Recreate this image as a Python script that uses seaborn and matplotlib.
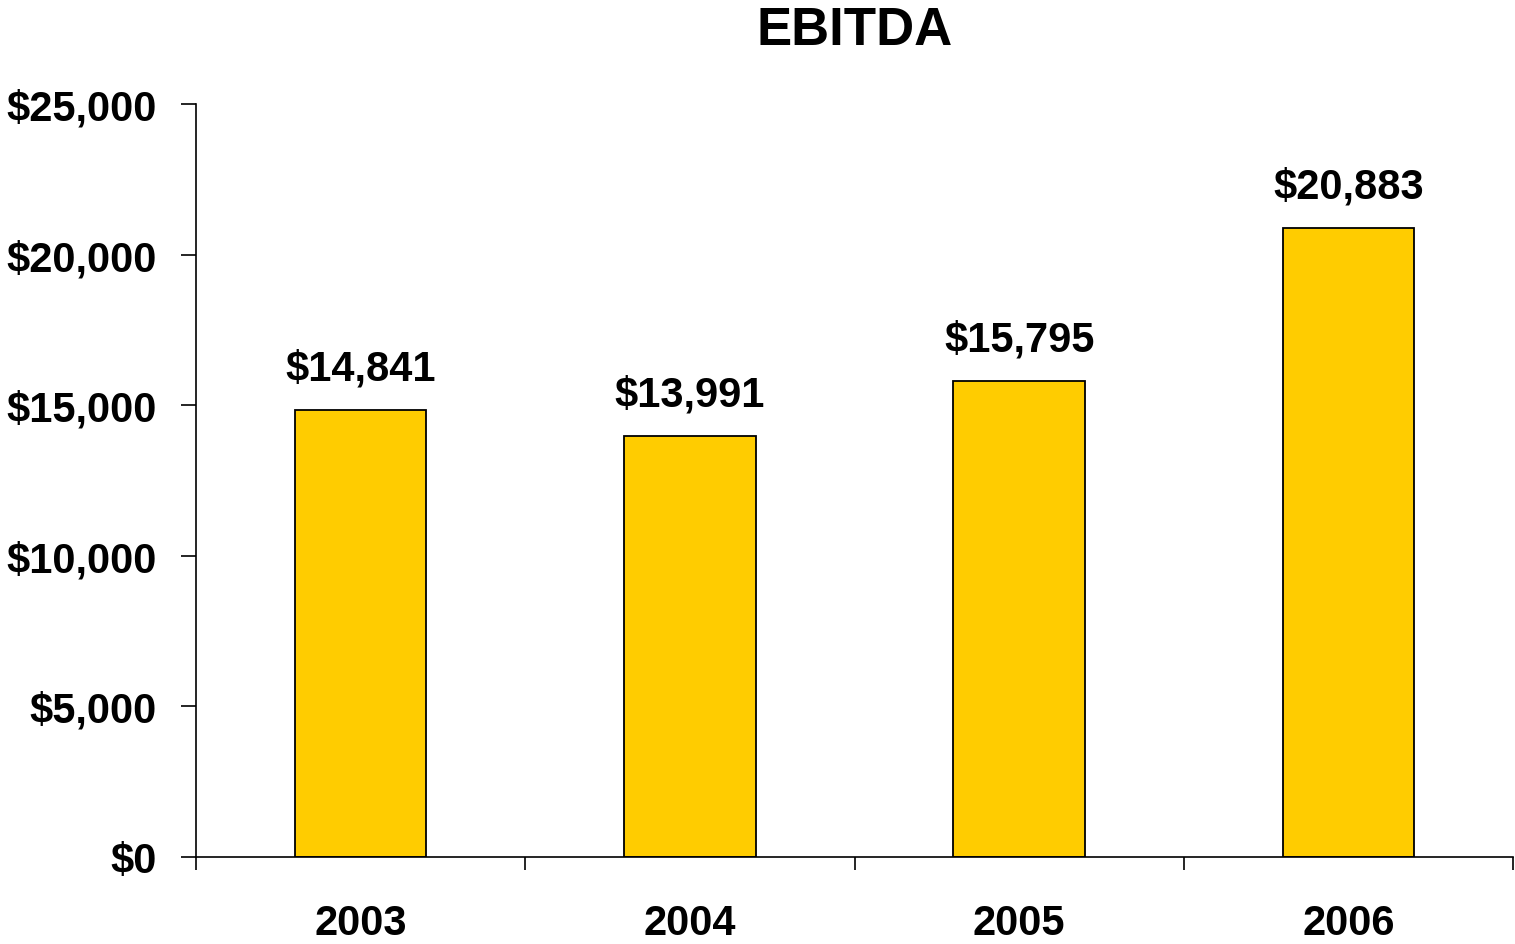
import matplotlib
matplotlib.use("Agg")
import matplotlib.pyplot as plt
import seaborn as sns
import pandas as pd

years = ["2003", "2004", "2005", "2006"]
ebitda = [14841, 13991, 15795, 20883]
value_labels = ["$14,841", "$13,991", "$15,795", "$20,883"]
y_ticks = [0, 5000, 10000, 15000, 20000, 25000]
y_tick_labels = ["$0", "$5,000", "$10,000", "$15,000", "$20,000", "$25,000"]
title = "EBITDA"

sns.set_theme(style="white")
plt.rcParams["font.family"] = ["Liberation Sans", "DejaVu Sans"]
plt.rcParams["font.weight"] = "bold"
plt.rcParams["text.color"] = "black"
plt.rcParams["xtick.color"] = "black"
plt.rcParams["ytick.color"] = "black"
plt.rcParams["axes.labelcolor"] = "black"

df = pd.DataFrame({"year": years, "ebitda": ebitda})

fig = plt.figure(figsize=(15.15, 9.45), dpi=100)
ax = fig.add_axes([196 / 1515, 1 - 858 / 945, 1317 / 1515, (858 - 105) / 945])

sns.barplot(data=df, x="year", y="ebitda", color="#FFCC00", saturation=1,
            width=0.4, edgecolor="black", linewidth=1.3, ax=ax)

ax.set_xlim(-0.5, 3.5)
ax.set_ylim(0, 25000)
ax.set_xlabel("")
ax.set_ylabel("")

ax.set_yticks(y_ticks)
ax.set_yticklabels(y_tick_labels, fontsize=30, fontweight="bold", color="black")
ax.set_xticks([-0.5, 0.5, 1.5, 2.5, 3.5])
ax.set_xticklabels([])
ax.set_xticks(range(len(years)), minor=True)
ax.set_xticklabels(years, minor=True, fontsize=30, fontweight="bold", color="black")
ax.tick_params(axis="x", which="major", direction="out", length=9, width=1.2, color="black", bottom=True)
ax.tick_params(axis="x", which="minor", length=0, pad=33)
ax.tick_params(axis="y", direction="out", length=11, width=1.2, color="black", left=True, pad=17)

for s in ["top", "right"]:
    ax.spines[s].set_visible(False)
for s in ["left", "bottom"]:
    ax.spines[s].set_color("black")
    ax.spines[s].set_linewidth(1.2)

for i, (v, lab) in enumerate(zip(ebitda, value_labels)):
    ax.annotate(lab, xy=(i, v), xytext=(0, 22), textcoords="offset points",
                ha="center", va="baseline", fontsize=30, fontweight="bold", color="black")

ax.set_title(title, fontsize=38, fontweight="bold", pad=43, color="black")

fig.savefig("out.png", dpi=100)
